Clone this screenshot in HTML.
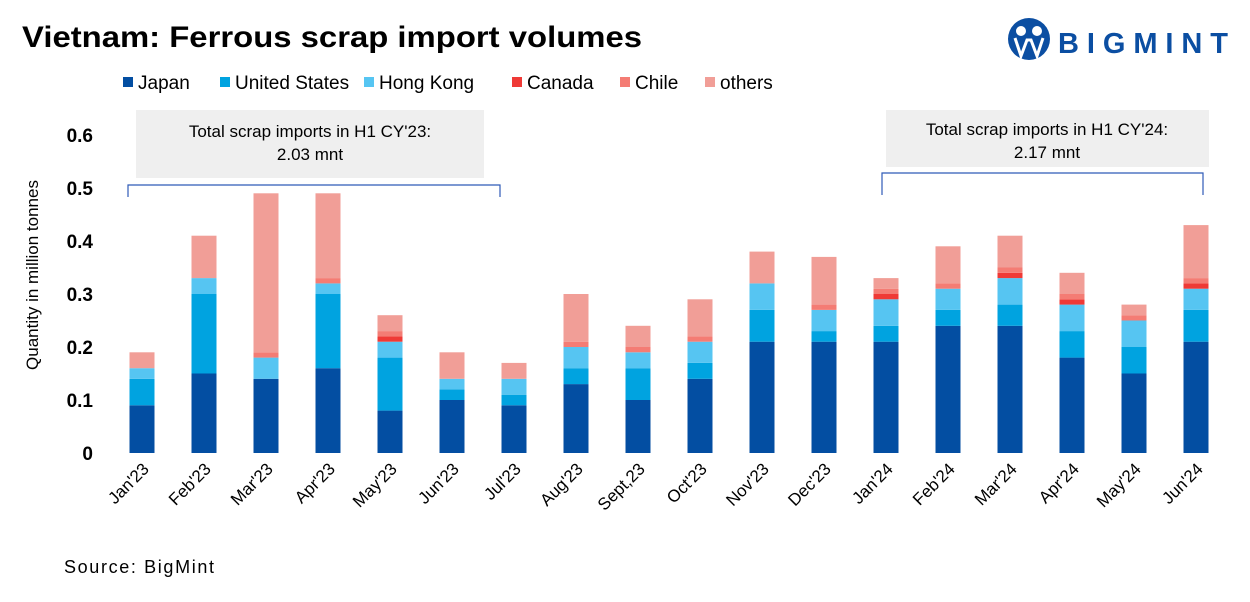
<!DOCTYPE html>
<html><head><meta charset="utf-8"><style>
body{margin:0;background:#fff;font-family:"Liberation Sans",sans-serif}
</style></head><body>
<svg width="1250" height="597" xmlns="http://www.w3.org/2000/svg" font-family="Liberation Sans, sans-serif">
<text x="22" y="47" font-size="30" font-weight="bold" fill="#000" textLength="620" lengthAdjust="spacingAndGlyphs">Vietnam: Ferrous scrap import volumes</text>
<g>
<circle cx="1029" cy="39" r="21" fill="#0B4EA2"/>
<circle cx="1021" cy="31" r="5" fill="#fff"/><circle cx="1037" cy="31" r="5" fill="#fff"/>
<path d="M1015 38 L1021 56 L1027 40 L1031 40 L1037 56 L1043 38" stroke="#fff" stroke-width="3" fill="none"/>
<text x="1058" y="53" font-size="29" font-weight="bold" fill="#0B4EA2" textLength="170" lengthAdjust="spacing">BIGMINT</text>
</g>
<g id="legend"></g>
<rect x="136" y="110" width="348" height="68" fill="#EFEFEF"/>
<text x="310" y="137" font-size="17" text-anchor="middle">Total scrap imports in H1 CY'23:</text>
<text x="310" y="160" font-size="17" text-anchor="middle">2.03 mnt</text>
<rect x="886" y="110" width="323" height="57" fill="#EFEFEF"/>
<text x="1047" y="135" font-size="17" text-anchor="middle">Total scrap imports in H1 CY'24:</text>
<text x="1047" y="158" font-size="17" text-anchor="middle">2.17 mnt</text>
<path d="M128 197 V185 H500 V197" stroke="#2F5BB7" fill="none" stroke-width="1.2"/>
<path d="M882 195 V173 H1203 V195" stroke="#2F5BB7" fill="none" stroke-width="1.2"/>
<text transform="translate(38,275) rotate(-90)" font-size="17" text-anchor="middle">Quantity in million tonnes</text>
<g id="yaxis"></g>
<g id="bars"></g>
<g id="xaxis"></g>
<text x="64" y="573" font-size="18" textLength="150" lengthAdjust="spacing">Source: BigMint</text>
</svg>
<script>
const categories=["Jan'23","Feb'23","Mar'23","Apr'23","May'23","Jun'23","Jul'23","Aug'23","Sept,23","Oct'23","Nov'23","Dec'23","Jan'24","Feb'24","Mar'24","Apr'24","May'24","Jun'24"];
const seriesNames=["Japan","United States","Hong Kong","Canada","Chile","others"];
const japan=[0.09,0.15,0.14,0.16,0.08,0.10,0.09,0.13,0.10,0.14,0.21,0.21,0.21,0.24,0.24,0.18,0.15,0.21];
const unitedStates=[0.05,0.15,0,0.14,0.10,0.02,0.02,0.03,0.06,0.03,0.06,0.02,0.03,0.03,0.04,0.05,0.05,0.06];
const hongKong=[0.02,0.03,0.04,0.02,0.03,0.02,0.03,0.04,0.03,0.04,0.05,0.04,0.05,0.04,0.05,0.05,0.05,0.04];
const canada=[0,0,0,0,0.01,0,0,0,0,0,0,0,0.01,0,0.01,0.01,0,0.01];
const chile=[0,0,0.01,0.01,0.01,0,0,0.01,0.01,0.01,0,0.01,0.01,0.01,0.01,0.01,0.01,0.01];
const others=[0.03,0.08,0.30,0.16,0.03,0.05,0.03,0.09,0.04,0.07,0.06,0.09,0.02,0.07,0.06,0.04,0.02,0.10];
const yTicks=[0,0.1,0.2,0.3,0.4,0.5,0.6];
const colors=["#034EA2","#00A3E0","#56C5F2","#EF3A36","#F47C74","#F19E97"];
const NS="http://www.w3.org/2000/svg";
const y=v=>453-v*530;
const x=i=>142+i*62;
function mk(tag,attrs,parent){const e=document.createElementNS(NS,tag);for(const k in attrs)e.setAttribute(k,attrs[k]);parent.appendChild(e);return e;}
const yg=document.getElementById('yaxis');
yTicks.forEach(t=>{const e=mk('text',{x:93,y:y(t)+7,'font-size':19,'font-weight':'bold','text-anchor':'end'},yg);e.textContent=t===0?'0':t.toFixed(1);

});
const bg=document.getElementById('bars');
const series=[japan,unitedStates,hongKong,canada,chile,others];
categories.forEach((c,i)=>{let acc=0;series.forEach((s,k)=>{const v=s[i];if(v>0){const r=mk('rect',{x:x(i)-12.5,y:y(acc+v),width:25,height:y(acc)-y(acc+v),fill:colors[k]},bg);

}acc+=v;});});
const xg=document.getElementById('xaxis');
categories.forEach((c,i)=>{const e=mk('text',{transform:`translate(${x(i)+8},${470}) rotate(-45)`,'font-size':17,'text-anchor':'end'},xg);e.textContent=c;

});
const lg=document.getElementById('legend');
const lx=[123,220,364,512,620,705];
seriesNames.forEach((n,k)=>{const r=mk('rect',{x:lx[k],y:77,width:10,height:10,fill:colors[k]},lg);


const t=mk('text',{x:lx[k]+15,y:89,'font-size':19},lg);t.textContent=n;

});
</script>
</body></html>
